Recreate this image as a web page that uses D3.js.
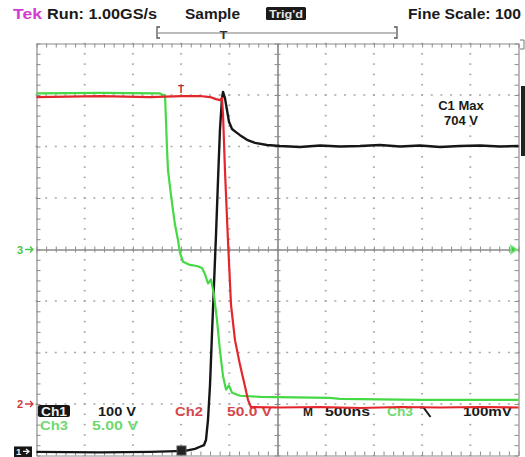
<!DOCTYPE html>
<html>
<head>
<meta charset="utf-8">
<script src="https://cdn.jsdelivr.net/npm/d3@7/dist/d3.min.js"></script>
<style>
  body { margin: 0; background: #fff; }
  svg { display: block; }
  text { font-family: "Liberation Sans", "DejaVu Sans", sans-serif; font-weight: bold; }
</style>
</head>
<body>
<svg id="scope" width="525" height="457"></svg>
<script>
// ---- Acquisition record: time in ns from left edge of the screen (500 ns/div, 10 div) ----
// Ch1: switch voltage (V)
const ch1Time  = [0, 659, 1177, 1540, 1644, 1696, 1737, 1758, 1779, 1800, 1820, 1841, 1862, 1883,
                  1903, 1924, 1935, 1955, 1976, 1997, 2028, 2069, 2111, 2184, 2267, 2391, 2526,
                  2734, 2941, 3148, 3356, 3563, 3771, 3978, 4186, 4393, 4600, 4807, 5000];
const ch1Volts = [5, 4, 5, 7, 11, 15, 18, 28, 67, 135, 232, 329, 426, 533,
                  630, 692, 704, 692, 669, 646, 632, 626, 620, 611, 605, 601, 599,
                  597, 600, 598, 599, 601, 598, 600, 597, 599, 600, 598, 599];

// Ch2: device current channel (V across 50 V/div probe)
const ch2Time  = [0, 659, 1177, 1499, 1696, 1800, 1862, 1903, 1924, 1935, 1955, 1986, 2018,
                  2059, 2111, 2163, 2194, 2225, 2526, 2941, 3356, 3771, 4186, 4600, 5000];
const ch2Volts = [298, 299, 298, 299, 299, 298, 296, 295, 297, 281, 227, 159, 96,
                  62, 38, 17, 4, -3, -3.4, -2.9, -3.9, -2.9, -3.4, -2.9, -3.4];

// Ch3: gate drive (V)
const ch3Time  = [0, 659, 1281, 1312, 1333, 1343, 1354, 1364, 1395, 1416, 1437, 1468, 1488, 1520,
                  1592, 1665, 1717, 1748, 1779, 1810, 1841, 1872, 1903, 1935, 1966, 1997, 2028,
                  2111, 2318, 3044, 3148, 3978, 5000];
const ch3Volts = [15.15, 15.2, 15.15, 15.0, 15.0, 12.6, 9.7, 7.7, 5.3, 3.8, 2.4, 0.9, -0.3, -1.2,
                  -1.5, -1.6, -1.8, -2.4, -3.3, -2.9, -4.4, -6.8, -9.8, -12.3, -13.6, -13.2, -13.9,
                  -14.2, -14.3, -14.4, -14.5, -14.6, -14.6];

// Channel settings: volts per division and ground offset in divisions from centre
const channelNames  = ["Ch1", "Ch2", "Ch3"];
const voltsPerDiv   = [100, 50, 5];
const offsetDivs    = [-3.98, -3.0, 0];
const traceColors   = ["#161616", "#e3262b", "#45d945"];

// Readouts
const headerLabels  = ["Run: 1.00GS/s", "Sample", "Fine Scale: 100"];
const scaleLabels   = ["100 V", "50.0 V", "5.00 V"];
const timebaseLabel = "500ns";
const triggerLevel  = "100mV";
const measureLabels = ["C1 Max", "704 V"];

// ---- Layout ----
const svg = d3.select("#scope");
const L = 36.5, R = 518.5, T = 43.5, B = 455.5;
const x = d3.scaleLinear().domain([0, 5000]).range([L, R]);
const yDiv = d3.scaleLinear().domain([-4, 4]).range([B, T]);
const chanY = voltsPerDiv.map((vd, i) =>
  d3.scaleLinear().domain([(-4 - offsetDivs[i]) * vd, (4 - offsetDivs[i]) * vd]).range([B, T]));

const gridColor = "#8c8c8c";

// ---- Graticule ----
const grid = svg.append("g");
const minorT = d3.range(0, 5001, 100);
const minorV = d3.range(-20, 21).map(d => d / 5);

// dotted division lines
const dots = [];
for (let i = 1; i < 10; i++) {
  if (i === 5) continue;
  minorV.forEach(v => dots.push([x(i * 500), yDiv(v)]));
}
for (let j = -3; j <= 3; j++) {
  if (j === 0) continue;
  minorT.forEach(t => dots.push([x(t), yDiv(j)]));
}
grid.selectAll("rect.dot").data(dots).join("rect")
  .attr("class", "dot")
  .attr("x", d => d[0] - 1).attr("y", d => d[1] - 0.75)
  .attr("width", 2).attr("height", 1.5)
  .attr("fill", "#a8a8a8");

function styleAxis(g) {
  g.selectAll("path").attr("stroke", gridColor).attr("stroke-width", 1.2);
  g.selectAll("line").attr("stroke", gridColor).attr("stroke-width", 1);
  g.selectAll("text").remove();
}

// frame with inward minor ticks
grid.append("g").attr("transform", `translate(0,${T})`)
  .call(d3.axisTop(x).tickValues(minorT).tickSize(-4).tickSizeOuter(0).tickFormat(""))
  .call(styleAxis);
grid.append("g").attr("transform", `translate(0,${B})`)
  .call(d3.axisBottom(x).tickValues(minorT).tickSize(-4).tickSizeOuter(0).tickFormat(""))
  .call(styleAxis);
grid.append("g").attr("transform", `translate(${L},0)`)
  .call(d3.axisLeft(yDiv).tickValues(minorV).tickSize(-4).tickSizeOuter(0).tickFormat(""))
  .call(styleAxis);
grid.append("g").attr("transform", `translate(${R},0)`)
  .call(d3.axisRight(yDiv).tickValues(minorV).tickSize(-4).tickSizeOuter(0).tickFormat(""))
  .call(styleAxis);

// centre cross with ticks on both sides
const cy = yDiv(0), cx = x(2500);
[3, -3].forEach(s => {
  grid.append("g").attr("transform", `translate(0,${cy})`)
    .call(d3.axisBottom(x).tickValues(minorT).tickSize(s).tickSizeOuter(0).tickFormat(""))
    .call(styleAxis);
  grid.append("g").attr("transform", `translate(${cx},0)`)
    .call(d3.axisRight(yDiv).tickValues(minorV).tickSize(s).tickSizeOuter(0).tickFormat(""))
    .call(styleAxis);
});

// ---- Text helper ----
function label(str, x0, y0, w, opts = {}) {
  return svg.append("text")
    .attr("x", x0).attr("y", y0)
    .attr("font-size", opts.size || 13)
    .attr("fill", opts.fill || "#1a1a1a")
    .attr("textLength", w).attr("lengthAdjust", "spacingAndGlyphs")
    .text(str);
}

// ---- Header ----
label("Tek", 13, 19, 29, { fill: "#d23cd2", size: 14 });
label(headerLabels[0], 47, 19, 110, { size: 14 });
label(headerLabels[1], 185, 19, 55, { size: 14 });
svg.append("rect").attr("x", 266).attr("y", 7).attr("width", 40).attr("height", 13)
  .attr("rx", 1.5).attr("fill", "#1a1a1a");
label("Trig'd", 269, 17.5, 34, { fill: "#e6e6e6", size: 11 });
label(headerLabels[2], 408, 19, 113, { size: 14 });

// record-position bracket
const br = svg.append("g").attr("stroke", "#555").attr("fill", "none").attr("stroke-width", 1.3);
br.append("path").attr("d", "M160,27 h-3 v11 h3");
br.append("path").attr("d", "M394,27 h3 v11 h-3");
br.append("line").attr("x1", 158).attr("x2", 396).attr("y1", 33).attr("y2", 33).attr("stroke-width", 0.8);
label("T", 219.5, 38.5, 8, { size: 11, fill: "#333" });

// right-edge indicators
svg.append("rect").attr("x", 521).attr("y", 86).attr("width", 4).attr("height", 70).attr("fill", "#222");
svg.append("path").attr("d", "M520,40 h4 v9 h-4").attr("stroke", "#777").attr("fill", "none");

// ---- Readouts (under the traces) ----
svg.append("rect").attr("x", 38).attr("y", 405).attr("width", 32).attr("height", 12)
  .attr("rx", 2).attr("fill", "#151515");
label(channelNames[0], 41, 415.5, 26, { fill: "#f0f0f0", size: 12 });
label(scaleLabels[0], 98, 416, 38, { size: 13 });
label(channelNames[1], 175, 416, 28, { fill: "#d4474a", size: 13 });
label(scaleLabels[1], 227, 416, 45, { fill: "#d4474a", size: 13 });
label("M", 303, 416, 10, { size: 13 });
label(timebaseLabel, 325, 416, 45, { size: 13 });
label(channelNames[2], 387, 416, 26, { fill: "#6fd96f", size: 13 });
svg.append("path").attr("d", "M420,407.5 h3.5 l7,9.5").attr("stroke", "#1a1a1a")
  .attr("stroke-width", 2).attr("fill", "none");
label(triggerLevel, 463, 416, 49, { size: 13 });
label(channelNames[2], 40, 430, 28, { fill: "#6fd96f", size: 13 });
label(scaleLabels[2], 92, 430, 46, { fill: "#6fd96f", size: 13 });

svg.append("text").attr("x", 461).attr("y", 110).attr("text-anchor", "middle")
  .attr("font-size", 13).attr("fill", "#1a1a1a").text(measureLabels[0]);
svg.append("text").attr("x", 461).attr("y", 125).attr("text-anchor", "middle")
  .attr("font-size", 13).attr("fill", "#1a1a1a").text(measureLabels[1]);

// ---- Traces ----
const traces = [
  { t: ch1Time, v: ch1Volts, ch: 0, w: 2.4 },
  { t: ch3Time, v: ch3Volts, ch: 2, w: 2.2 },
  { t: ch2Time, v: ch2Volts, ch: 1, w: 2.2 }
];
traces.forEach(tr => {
  const pts = tr.t.map((t, i) => [t, tr.v[i]]);
  const line = d3.line().x(d => x(d[0])).y(d => chanY[tr.ch](d[1]));
  svg.append("path").datum(pts)
    .attr("d", line)
    .attr("fill", "none")
    .attr("stroke", traceColors[tr.ch])
    .attr("stroke-width", tr.w)
    .attr("stroke-linejoin", "round");
});

// ---- Ground / level markers ----
// Ch1 ground marker
const g1 = chanY[0](0);
svg.append("rect").attr("x", 14).attr("y", g1 - 8).attr("width", 18).attr("height", 10.5).attr("fill", "#151515");
svg.append("text").attr("x", 16).attr("y", g1 + 1).attr("font-size", 9.5).attr("fill", "#eee").text("1");
svg.append("path").attr("d", `M23,${g1 - 3} h6 m-3,-2.5 l3,2.5 l-3,2.5`).attr("stroke", "#eee")
  .attr("stroke-width", 1.3).attr("fill", "none");
// Ch2 ground marker
const g2 = chanY[1](0);
svg.append("text").attr("x", 17).attr("y", g2 + 4).attr("font-size", 11).attr("fill", "#d23a3a").text("2");
svg.append("path").attr("d", `M25,${g2} h8 m-3,-3 l3,3 l-3,3`).attr("stroke", "#d23a3a")
  .attr("stroke-width", 1.3).attr("fill", "none");
// Ch3 ground marker
const g3 = chanY[2](0);
svg.append("text").attr("x", 17).attr("y", g3 + 4).attr("font-size", 11).attr("fill", "#48c848").text("3");
svg.append("path").attr("d", `M25,${g3} h8 m-3,-3 l3,3 l-3,3`).attr("stroke", "#48c848")
  .attr("stroke-width", 1.3).attr("fill", "none");
// Ch3 off-screen level indicator on the right
svg.append("path").attr("d", `M511,${g3 - 4} l6,4 l-6,4 z`).attr("fill", "#3fd03f")
  .attr("stroke", "#7fe57f").attr("stroke-width", 1.5);
// trigger level on Ch2
svg.append("text").attr("x", 181).attr("y", 93).attr("text-anchor", "middle")
  .attr("font-size", 10).attr("fill", "#b83030").text("T");
// trigger point marker on Ch1
svg.append("rect").attr("x", 177).attr("y", 446).attr("width", 9).attr("height", 9)
  .attr("fill", "#222").attr("stroke", "#555");
</script>
</body>
</html>
